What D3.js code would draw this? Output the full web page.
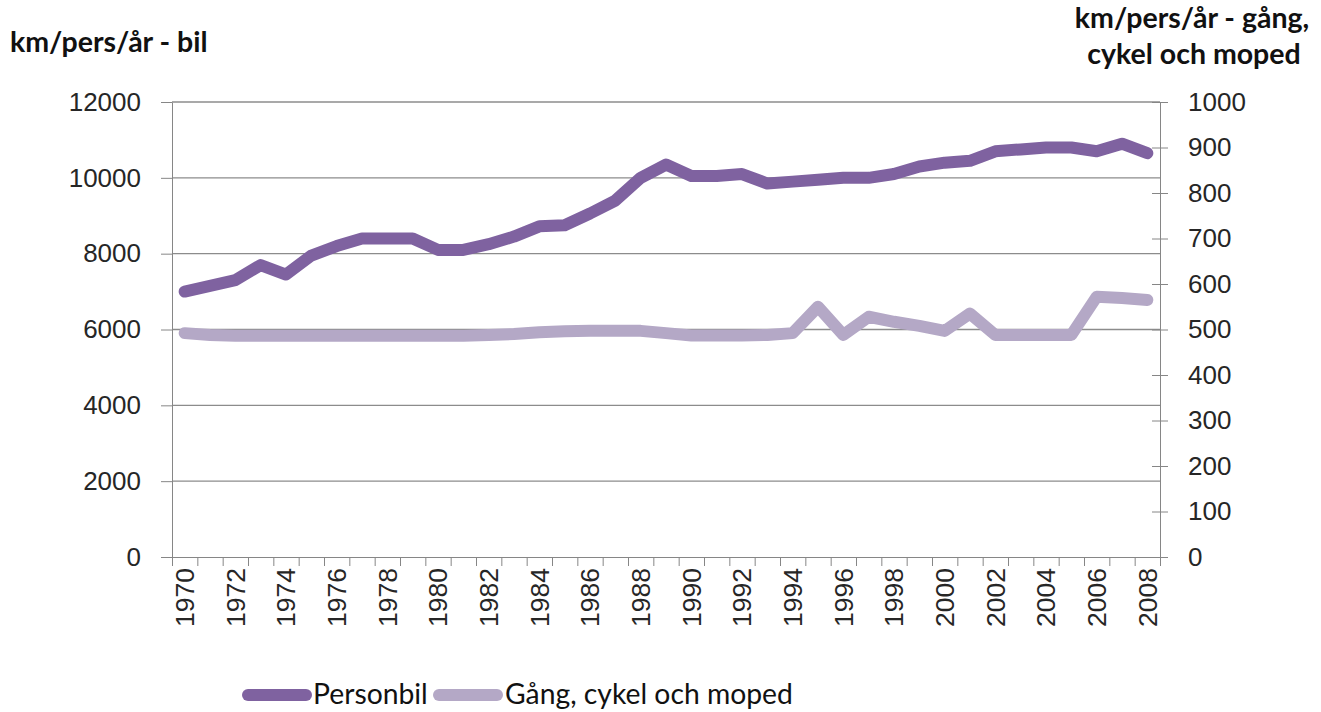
<!DOCTYPE html>
<html lang="sv">
<head>
    <meta charset="UTF-8">
    <script src="https://cdn.jsdelivr.net/npm/d3@7"></script>
    <title>km/pers/år</title>
    <style>
        body { margin: 0; background: #fff; }
        .tick text { font-family: "Liberation Sans", Arial, sans-serif; font-size: 26px; fill: #262626; }
        .axis path, .axis line { stroke: #868686; }
        .title { font-family: Lato, "Open Sans", sans-serif; font-weight: bold; font-size: 28.5px; fill: #111; }
        .legend text { font-family: Lato, "Open Sans", sans-serif; font-size: 28.3px; fill: #111; }
    </style>
</head>
<body>
    <svg id="chart" width="1321" height="712"></svg>
    <script>
        // data
        const years = d3.range(1970, 2009);
        const personbil = [7000, 7150, 7300, 7700, 7450, 7950, 8200, 8400, 8400, 8400,
                           8100, 8100, 8250, 8450, 8720, 8750, 9060, 9400, 10000, 10350,
                           10050, 10050, 10100, 9850, 9900, 9950, 10000, 10000, 10100, 10300,
                           10400, 10450, 10700, 10750, 10800, 10800, 10700, 10900, 10650];
        const gcm = [492, 488, 486, 486, 486, 486, 486, 486, 486, 486,
                     486, 486, 488, 490, 494, 496, 497, 497, 497, 492,
                     487, 487, 487, 488, 492, 550, 488, 528, 517, 508,
                     497, 535, 488, 488, 488, 488, 572, 569, 565];
        const leftTicks = d3.range(0, 12001, 2000);
        const rightTicks = d3.range(0, 1001, 100);
        const seriesNames = ["Personbil", "Gång, cykel och moped"];
        const colors = ["#7f62a0", "#b4a8c6"];

        const margin = { top: 102, right: 161, bottom: 155, left: 172 };
        const W = 1321, H = 712;
        const innerW = W - margin.left - margin.right;
        const innerH = H - margin.top - margin.bottom;

        const svg = d3.select("#chart");
        const g = svg.append("g").attr("transform", `translate(${margin.left},${margin.top})`);

        const x = d3.scaleBand().domain(years).range([0, innerW]);
        const xb = d3.scaleLinear().domain([0, years.length]).range([0, innerW]);
        const yL = d3.scaleLinear().domain([0, 12000]).range([innerH, 0]);
        const yR = d3.scaleLinear().domain([0, 1000]).range([innerH, 0]);
        const cx = d => x(d) + x.bandwidth() / 2;

        // gridlines
        g.append("g").selectAll("line")
            .data(leftTicks.slice(1))
            .enter().append("line")
            .attr("x1", 0).attr("x2", innerW)
            .attr("y1", d => yL(d)).attr("y2", d => yL(d))
            .attr("stroke", "#8c8c8c").attr("stroke-width", 1.3);

        // left axis
        g.append("g").attr("class", "axis")
            .call(d3.axisLeft(yL).tickValues(leftTicks).tickFormat(d3.format("d"))
                .tickSize(11).tickPadding(20).tickSizeOuter(0));

        // right axis, ticks cross the line
        const ra = g.append("g").attr("class", "axis")
            .attr("transform", `translate(${innerW},0)`)
            .call(d3.axisRight(yR).tickValues(rightTicks).tickFormat(d3.format("d"))
                .tickSize(8).tickPadding(20).tickSizeOuter(0));
        ra.selectAll(".tick line").attr("x1", -8);

        // bottom axis: tick marks on band edges
        g.append("g").attr("class", "axis")
            .attr("transform", `translate(0,${innerH})`)
            .call(d3.axisBottom(xb).tickValues(d3.range(years.length + 1)).tickFormat("").tickSize(9).tickSizeOuter(0));

        g.append("g").selectAll("text")
            .data(years.filter(d => d % 2 === 0))
            .enter().append("text")
            .attr("transform", d => `translate(${cx(d)},${innerH + 11}) rotate(-90)`)
            .attr("text-anchor", "end")
            .attr("dy", "0.35em")
            .style("font-family", '"Liberation Sans", Arial, sans-serif')
            .style("font-size", "26.5px")
            .style("fill", "#262626")
            .text(d => d);

        // lines
        const lineL = d3.line().x((d, i) => cx(years[i])).y(d => yL(d));
        const lineR = d3.line().x((d, i) => cx(years[i])).y(d => yR(d));

        g.append("path").datum(gcm)
            .attr("d", lineR)
            .attr("fill", "none").attr("stroke", colors[1]).attr("stroke-width", 12)
            .attr("stroke-linejoin", "round").attr("stroke-linecap", "round");
        g.append("path").datum(personbil)
            .attr("d", lineL)
            .attr("fill", "none").attr("stroke", colors[0]).attr("stroke-width", 12)
            .attr("stroke-linejoin", "round").attr("stroke-linecap", "round");

        // axis titles
        svg.append("text").attr("class", "title").attr("x", 10).attr("y", 52).text("km/pers/år - bil");
        const rt = svg.append("text").attr("class", "title").attr("text-anchor", "middle");
        rt.append("tspan").attr("x", 1192).attr("y", 28).text("km/pers/år - gång,");
        rt.append("tspan").attr("x", 1194).attr("y", 64).text("cykel och moped");

        // legend
        const legend = svg.append("g").attr("class", "legend").attr("transform", "translate(0,695)");
        const legX = [[248, 306, 313], [439, 497, 505]];
        seriesNames.forEach((name, i) => {
            legend.append("line")
                .attr("x1", legX[i][0]).attr("x2", legX[i][1])
                .attr("y1", 0).attr("y2", 0)
                .attr("stroke", colors[i]).attr("stroke-width", 12).attr("stroke-linecap", "round");
            legend.append("text").attr("x", legX[i][2]).attr("y", 9).text(name);
        });
    </script>
</body>
</html>
